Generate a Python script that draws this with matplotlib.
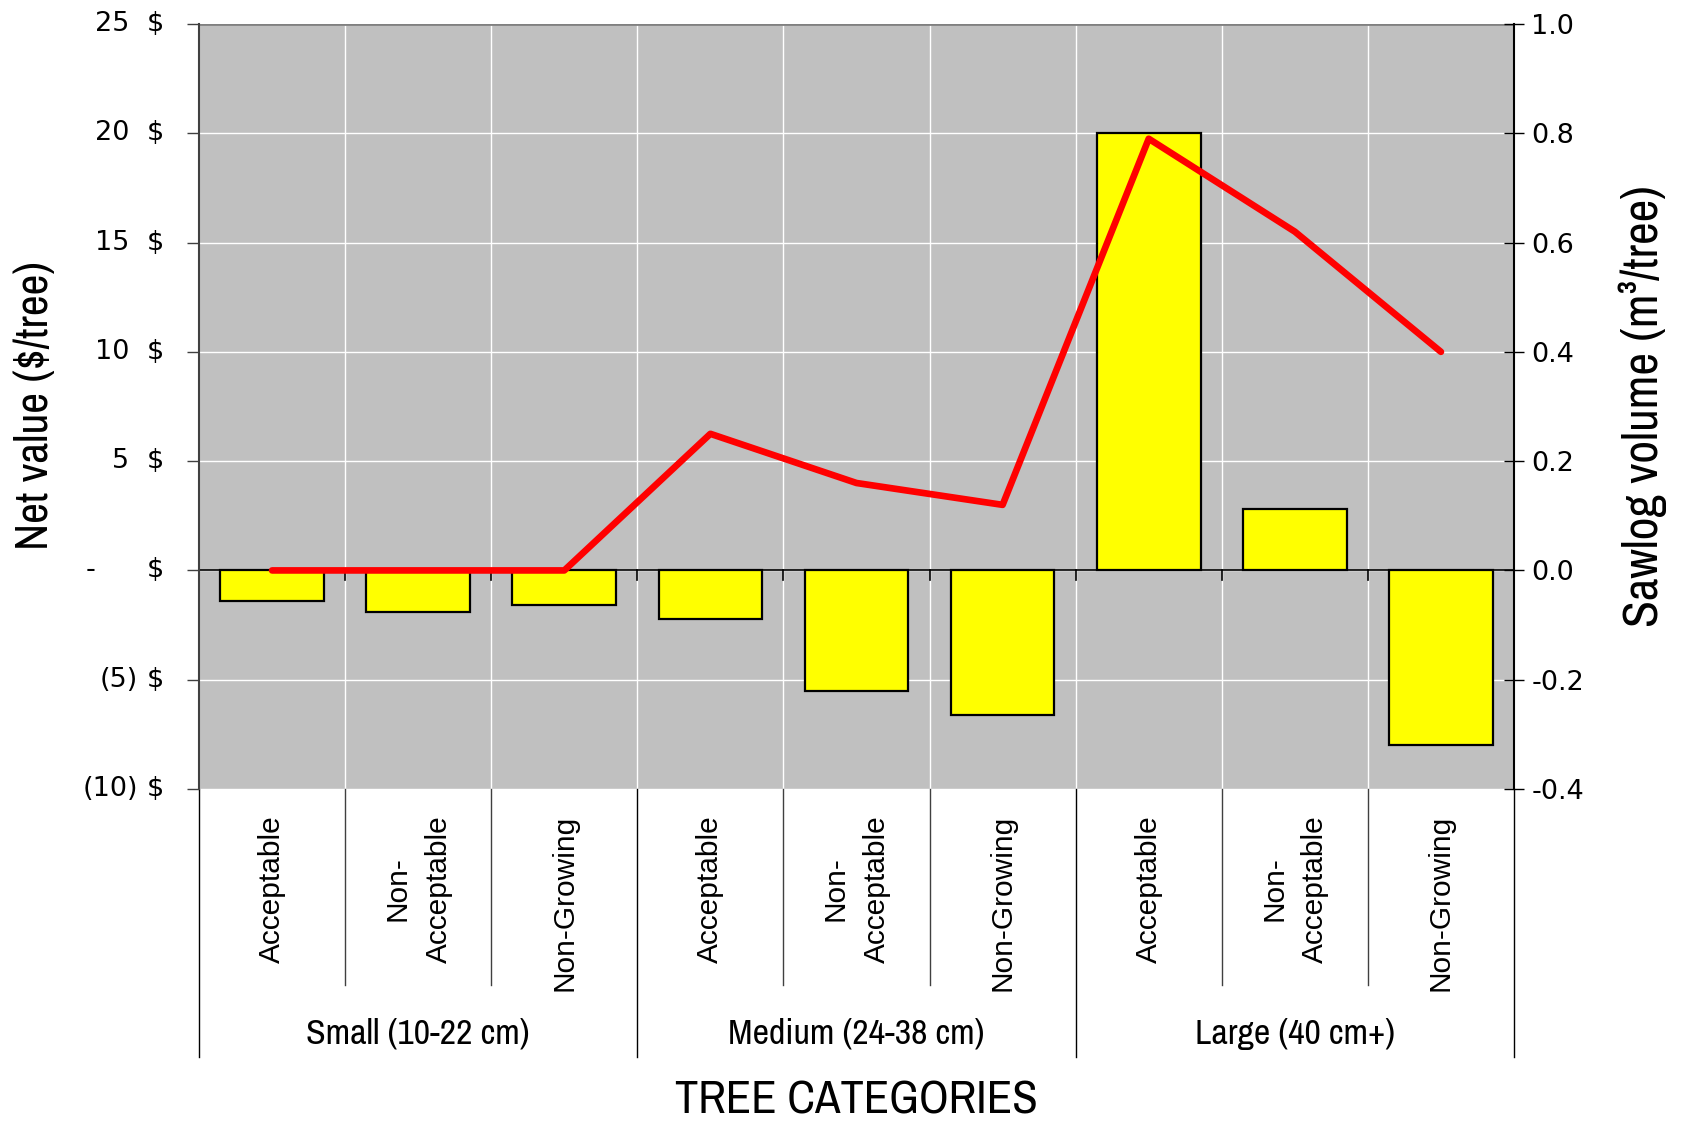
import matplotlib
matplotlib.use("Agg")
import matplotlib.pyplot as plt
from matplotlib import font_manager
from matplotlib.font_manager import FontProperties
from matplotlib.transforms import blended_transform_factory
import numpy as np

# ---- data ----
groups = ["Small (10-22 cm)", "Medium (24-38 cm)", "Large (40 cm+)"]
classes = ["Acceptable", "Non-\nAcceptable", "Non-Growing"]
net_value = [-1.4, -1.9, -1.6, -2.2, -5.5, -6.6, 20.0, 2.8, -8.0]
sawlog_volume = [0.0, 0.0, 0.0, 0.25, 0.16, 0.12, 0.79, 0.62, 0.40]
left_ticks = [25, 20, 15, 10, 5, 0, -5, -10]
right_ticks = [1.0, 0.8, 0.6, 0.4, 0.2, 0.0, -0.2, -0.4]


def narrow_font():
    """Find a regular-weight condensed sans face; fall back to DejaVu Sans."""
    best = None
    for f in font_manager.fontManager.ttflist:
        fn = f.fname.lower()
        cond = ("condensed" in fn or "narrow" in fn
                or f.stretch in ("condensed", "semi-condensed", "extra-condensed"))
        if not cond or f.style != "normal":
            continue
        w = f.weight if isinstance(f.weight, int) else (700 if f.weight == "bold" else 400)
        if w >= 600:
            continue
        if any(k in fn for k in ("extra", "light", "thin", "black", "semi", "italic")):
            continue
        score = 0 if ("narrow" in fn) else 1
        if best is None or score < best[0]:
            best = (score, f.fname)
    if best:
        return FontProperties(fname=best[1])
    return FontProperties(family="DejaVu Sans")


NARROW = narrow_font()
REG = "Liberation Sans"
TICKF = "DejaVu Sans"

W, H = 1686, 1124
fig = plt.figure(figsize=(W / 100, H / 100), dpi=100)
L, R, T, B = 199, 1514, 24, 789
ax = fig.add_axes([L / W, 1 - B / H, (R - L) / W, (B - T) / H])
ax2 = ax.twinx()

n = len(net_value)
x = np.arange(n)
ax.set_facecolor("#C0C0C0")
ax.set_xlim(-0.5, n - 0.5)
ax.set_ylim(-10, 25)
ax2.set_ylim(-0.4, 1.0)

# grid
for yv in left_ticks:
    ax.axhline(yv, color="white", lw=1.0, zorder=0.5)
for b in np.arange(0.5, n - 0.5, 1.0):
    ax.axvline(b, color="white", lw=1.0, zorder=0.5)
ax.axhline(25, color="#808080", lw=2.0, zorder=0.6)

ax.bar(x, net_value, width=0.71, color="#FFFF00", edgecolor="black",
       linewidth=1.6, zorder=2)

# zero axis with downward ticks at category boundaries
ax.axhline(0, color="black", lw=1.2, zorder=1.5)
xt = ax.get_xaxis_transform()
z_ax = (0 - (-10)) / 35
for b in np.arange(0.5, n - 0.5, 1.0):
    ax.plot([b, b], [z_ax, z_ax - 0.013], transform=xt, color="black",
            lw=1.2, zorder=1.5)

ax2.plot(x, sawlog_volume, color="#FF0000", lw=4.8, solid_capstyle="round",
         solid_joinstyle="round", zorder=3)
ax2.set_zorder(ax.get_zorder() + 1)
ax2.patch.set_visible(False)

# spines
for sp in ["top", "bottom"]:
    ax.spines[sp].set_visible(False)
    ax2.spines[sp].set_visible(False)
ax.spines["left"].set_color("#404040")
ax.spines["left"].set_linewidth(1.5)
ax.spines["right"].set_visible(False)
ax2.spines["left"].set_visible(False)
ax2.spines["right"].set_color("black")
ax2.spines["right"].set_linewidth(1.5)

# left ticks with accounting-style labels
TFS = 19.5
ax.set_yticks(left_ticks)
ax.set_yticklabels([])
ax.tick_params(axis="y", direction="out", length=8.5, width=1.0, color="#404040")
ax.set_xticks([])
bt = blended_transform_factory(fig.transFigure, ax.transData)
for v in left_ticks:
    if v > 0:
        ax.text(129 / W, v, f"{v}", transform=bt, ha="right", va="center",
                fontsize=TFS, family=TICKF)
    elif v < 0:
        ax.text(138 / W, v, f"({-v})", transform=bt, ha="right", va="center",
                fontsize=TFS, family=TICKF)
    else:
        ax.text(91 / W, v, "-", transform=bt, ha="center", va="center",
                fontsize=TFS, family=TICKF)
    ax.text(164 / W, v, "$", transform=bt, ha="right", va="center",
            fontsize=TFS, family=TICKF)

ax2.set_yticks(right_ticks)
ax2.set_yticklabels([f"{v:.1f}" for v in right_ticks], fontsize=TFS, family=TICKF)
ax2.tick_params(axis="y", direction="inout", length=15, width=1.0, pad=5)

# category labels and separators below the plot
for i in range(n):
    ax.text(i, -0.034, classes[i % 3], transform=xt, rotation=90, ha="center",
            va="top", multialignment="center", fontsize=21.5, family=REG,
            linespacing=1.6)
for b in np.arange(-0.5, n, 1.0):
    idx = int(b + 0.5)
    y_end = -0.350 if idx % 3 == 0 else -0.256
    ax.plot([b, b], [0, y_end], transform=xt,
            color="black" if idx % 3 == 0 else "#404040", lw=1.0, clip_on=False)

group_texts = [ax.text(3 * g + 1, -0.320, name, transform=xt, ha="center",
                       va="center", fontproperties=NARROW.copy())
               for g, name in enumerate(groups)]

t_x = fig.text(856 / W, 1 - 1100 / H, "TREE CATEGORIES", ha="center", va="center",
               fontproperties=NARROW.copy())
t_l = fig.text(35 / W, 1 - 406 / H, "Net value ($/tree)", ha="center", va="center",
               rotation=90, fontproperties=NARROW.copy())
t_r = fig.text(1643 / W, 1 - 406 / H, "Sawlog volume (m³/tree)", ha="center",
               va="center", rotation=90, fontproperties=NARROW.copy())

# size the narrow titles to their intended extent (in pixels)
sized = [(group_texts[0], 224, group_texts), (t_x, 363, [t_x]),
         (t_l, 289, [t_l]), (t_r, 441, [t_r])]
for ref, _, members in sized:
    for t in members:
        t.set_fontsize(30)
fig.canvas.draw()
renderer = fig.canvas.get_renderer()
for ref, target, members in sized:
    bb = ref.get_window_extent(renderer)
    length = bb.height if ref.get_rotation() == 90 else bb.width
    for t in members:
        t.set_fontsize(30 * target / length)

fig.savefig("out.png", dpi=100, facecolor="white")
